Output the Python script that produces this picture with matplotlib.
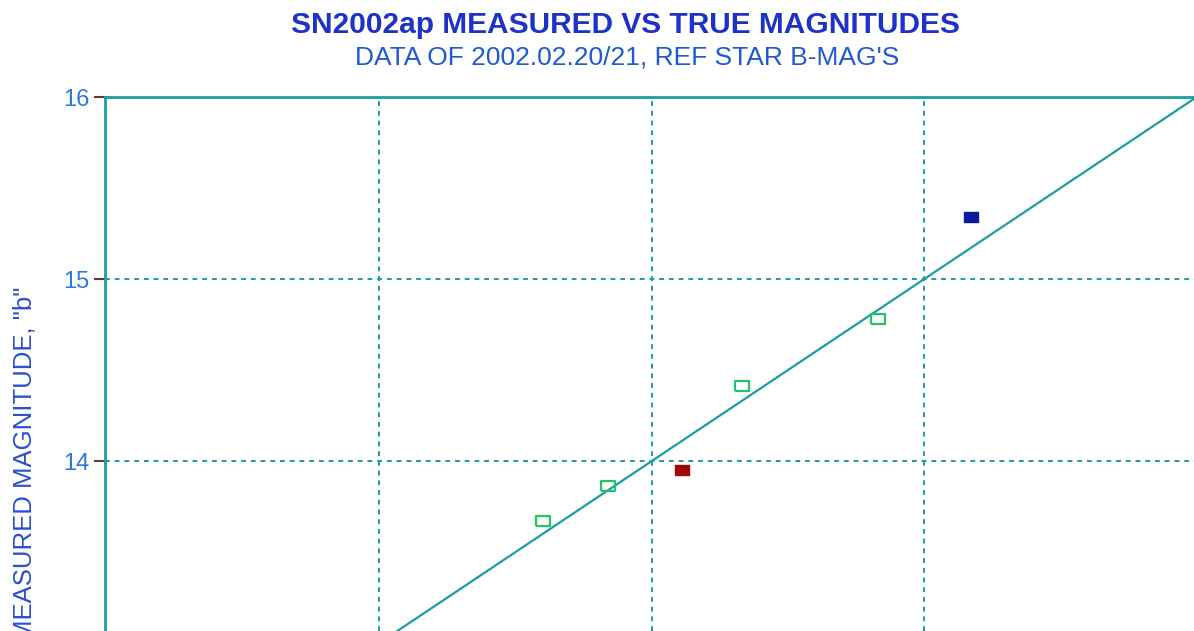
import numpy as np
import matplotlib
matplotlib.use('Agg')
import matplotlib.pyplot as plt

plt.rcParams['font.family'] = ['Liberation Sans', 'DejaVu Sans']

# reference stars (true mag, measured mag)
ref_true = [13.60, 13.84, 14.33, 14.83]
ref_meas = [13.67, 13.86, 14.41, 14.78]
# check star
chk_true = [14.11]
chk_meas = [13.95]
# SN2002ap
sn_true = [15.17]
sn_meas = [15.34]
# 1:1 line
line_x = [12, 16]
line_y = [12, 16]

yticks = [14, 15, 16]
xticks = [13, 14, 15]

teal = '#1a9e9e'
rect = [(-1, -0.65), (1, -0.65), (1, 0.65), (-1, 0.65), (-1, -0.65)]

fig = plt.figure(figsize=(11.94, 6.31), dpi=100)
ax = fig.add_axes([105 / 1194, 0.0, 1 - 105 / 1194, 1 - 97 / 631])

ax.plot(line_x, line_y, color=teal, lw=1.6, zorder=2)
ax.plot(ref_true, ref_meas, linestyle='none', marker=rect, markersize=10,
        markerfacecolor='none', markeredgecolor='#22c46a', markeredgewidth=1.6, zorder=3)
ax.plot(chk_true, chk_meas, linestyle='none', marker=rect, markersize=10,
        markerfacecolor='#a30808', markeredgecolor='#a30808', zorder=3)
ax.plot(sn_true, sn_meas, linestyle='none', marker=rect, markersize=10,
        markerfacecolor='#0a1a9a', markeredgecolor='#0a1a9a', zorder=3)

ax.set_xlim(11.993, 15.99)
ax.set_ylim(13.066, 16)
ax.set_xticks(xticks)
ax.set_yticks(yticks)
ax.set_xticklabels([])
ax.grid(True, color=teal, linestyle=(0, (2.5, 2.5)), lw=1.4)

for s in ['left', 'top']:
    ax.spines[s].set_color(teal)
    ax.spines[s].set_linewidth(2)
for s in ['right', 'bottom']:
    ax.spines[s].set_visible(False)

ax.tick_params(axis='y', length=8, width=1.5, color='#6a3a3a',
               labelcolor='#2a7ae0', labelsize=17, pad=3)
ax.tick_params(axis='x', length=0)

fig.text(625 / 1194, 1 - 25 / 631, 'SN2002ap MEASURED VS TRUE MAGNITUDES',
         ha='center', va='center', fontsize=21.5, fontweight='bold', color='#1e32c8')
fig.text(627 / 1194, 1 - 58 / 631, "DATA OF 2002.02.20/21, REF STAR B-MAG'S",
         ha='center', va='center', fontsize=19, color='#1e5ad0')
fig.text(25 / 1194, 1 - 287 / 631, 'MEASURED MAGNITUDE, "b"', rotation=90,
         ha='center', va='top', fontsize=18.5, color='#2a50d0')

fig.savefig('out.png', dpi=100)
